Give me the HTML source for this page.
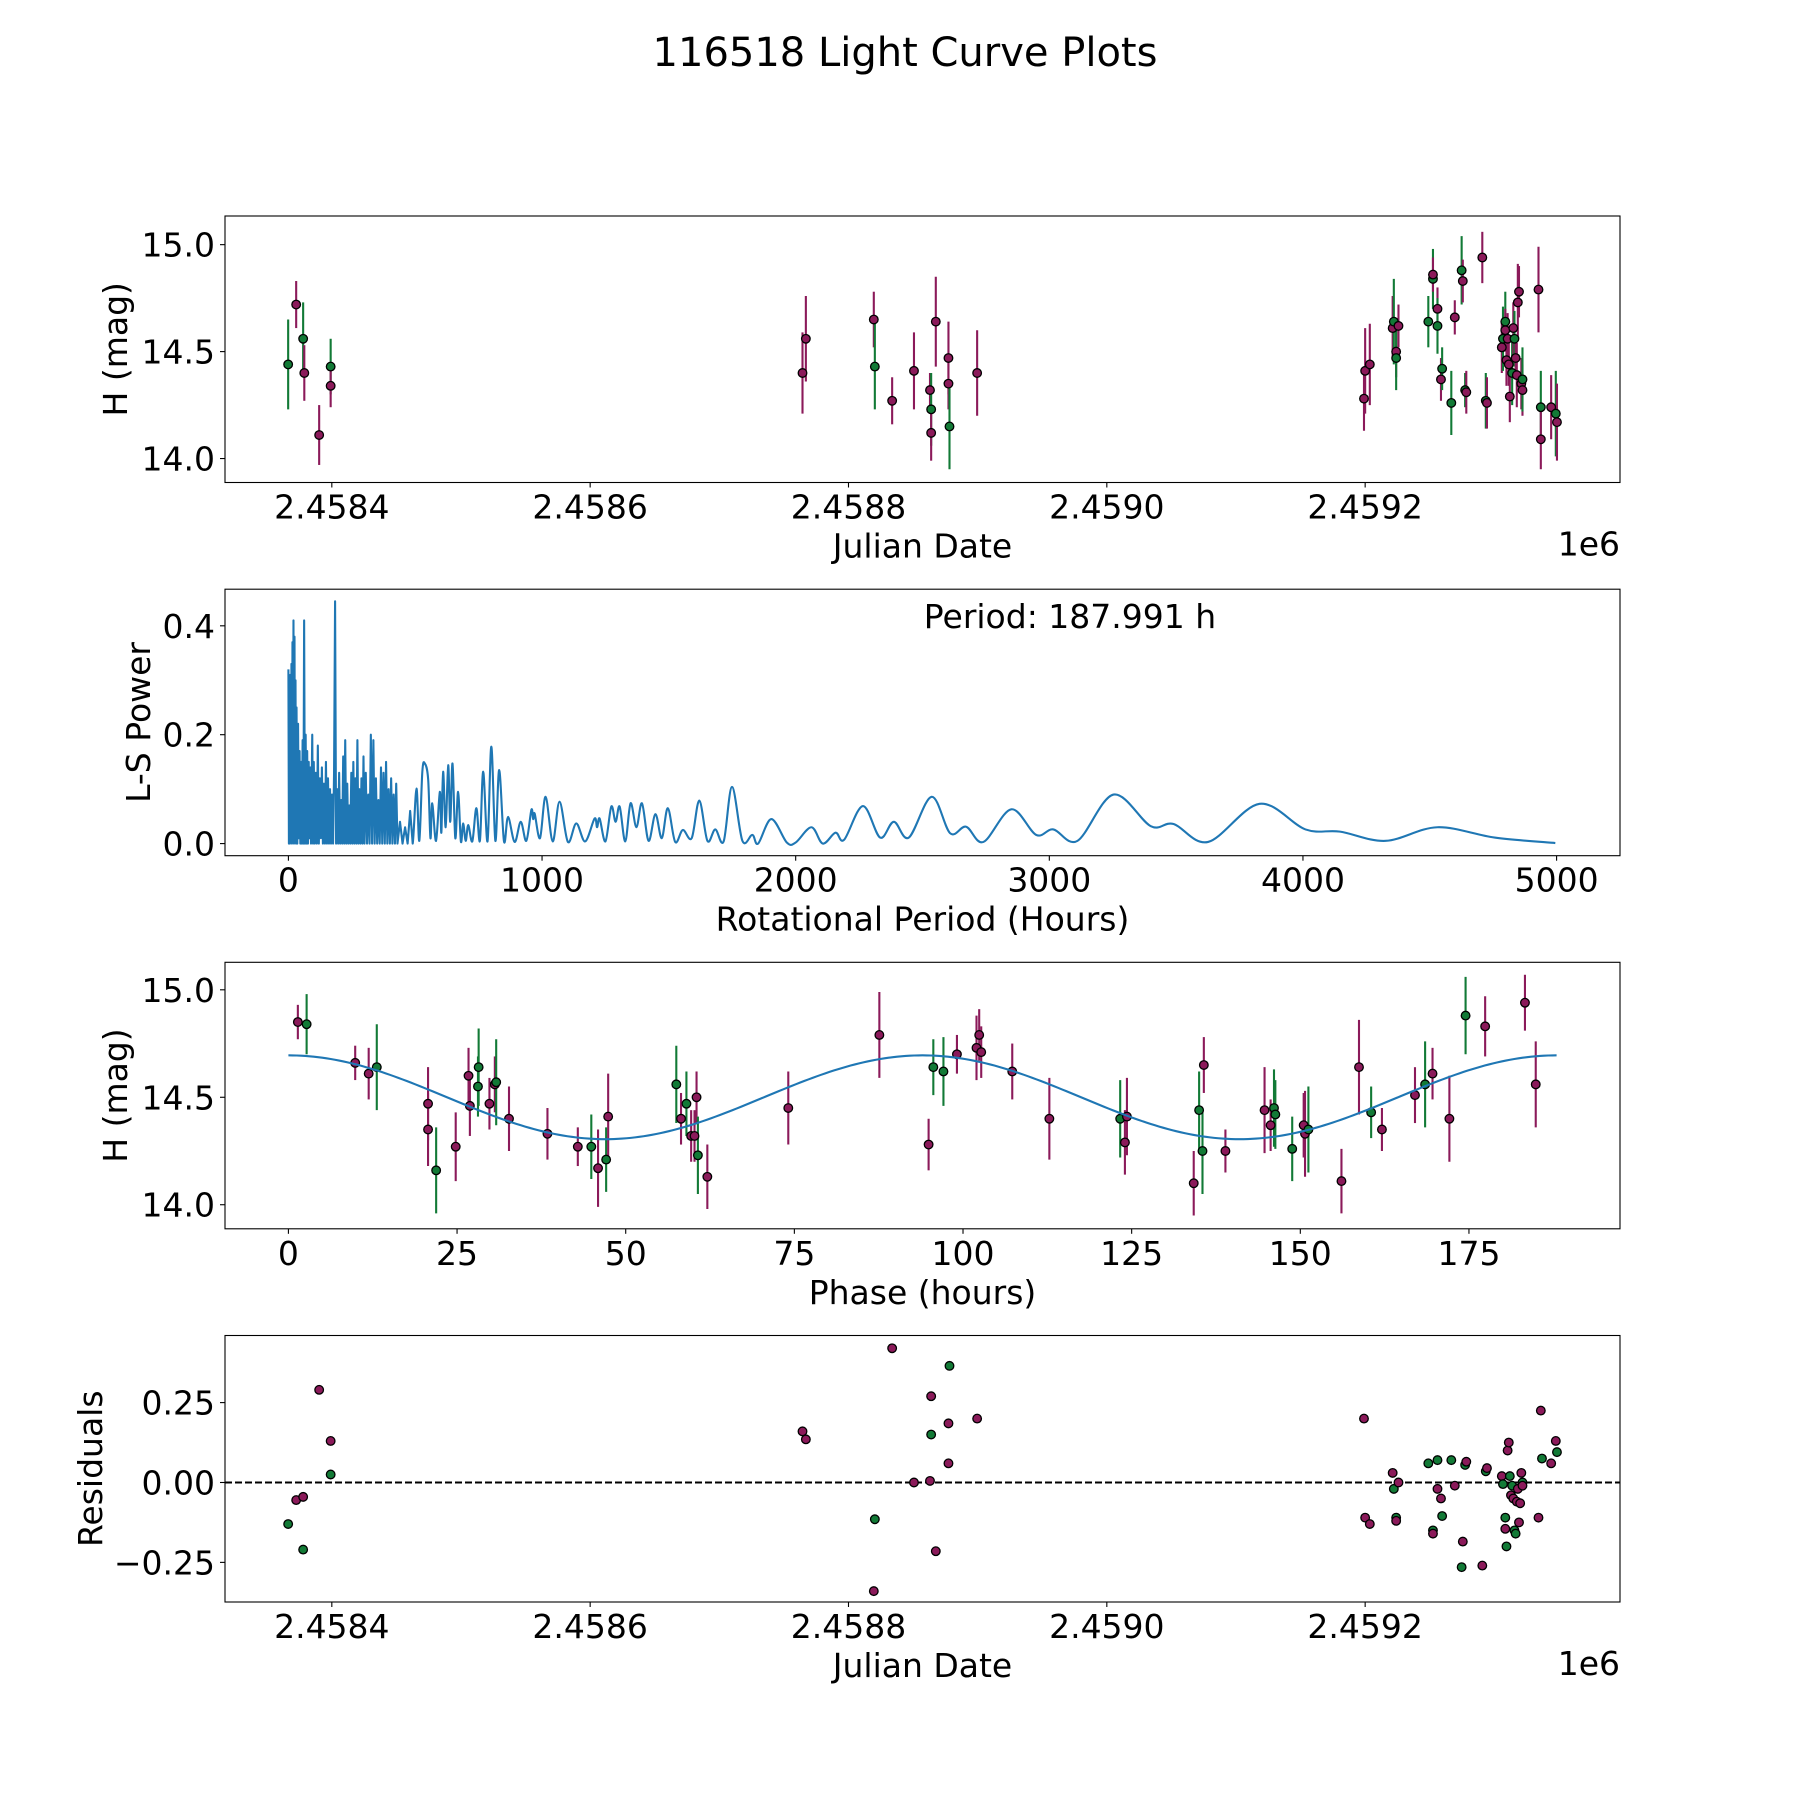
<!DOCTYPE html>
<html><head><meta charset="utf-8"><title>116518 Light Curve Plots</title>
<style>
html,body{margin:0;padding:0;background:#fff;}
svg{display:block;font-family:"DejaVu Sans","Liberation Sans",sans-serif;}
</style></head>
<body>
<svg id="fig" width="1800" height="1800" viewBox="0 0 1800 1800" xmlns="http://www.w3.org/2000/svg">
<rect x="0" y="0" width="1800" height="1800" fill="#fff"/>
<text x="905" y="66" font-size="40" text-anchor="middle">116518 Light Curve Plots</text>
</svg>
<script>
// ---------- Panel 1: observations (JD offset from 2458000) ----------
const obsT = [366.2,372.4,377.8,378.7,390.2,399.1,399.1,764.4,767.0,819.6,820.4,833.8,850.7,863.1,864.0,864.0,867.6,877.4,877.4,878.2,899.6,1199.1,1200.0,1203.6,1221.3,1222.2,1224.0,1224.0,1225.8,1248.9,1252.5,1252.5,1256.0,1256.0,1258.7,1259.6,1266.7,1269.4,1274.7,1275.6,1277.4,1278.3,1290.7,1293.4,1294.3,1305.8,1306.7,1308.5,1308.5,1309.4,1310.3,1311.2,1312.0,1313.8,1314.7,1315.6,1316.5,1317.4,1318.2,1319.1,1320.9,1321.8,1321.8,1334.2,1336.0,1336.0,1344.0,1347.6,1348.5];
const obsH = [14.44,14.72,14.56,14.40,14.11,14.43,14.34,14.40,14.56,14.65,14.43,14.27,14.41,14.32,14.23,14.12,14.64,14.47,14.35,14.15,14.40,14.28,14.41,14.44,14.61,14.64,14.50,14.47,14.62,14.64,14.84,14.86,14.70,14.62,14.37,14.42,14.26,14.66,14.88,14.83,14.32,14.31,14.94,14.27,14.26,14.52,14.56,14.64,14.60,14.46,14.56,14.44,14.29,14.40,14.61,14.56,14.47,14.39,14.73,14.78,14.35,14.32,14.37,14.79,14.24,14.09,14.24,14.21,14.17];
const obsErr = [.21,.11,.17,.13,.14,.13,.10,.19,.20,.13,.20,.11,.18,.08,.17,.13,.21,.17,.12,.20,.20,.15,.20,.19,.15,.20,.12,.15,.10,.12,.14,.08,.10,.13,.10,.10,.15,.08,.16,.10,.08,.10,.12,.13,.12,.12,.15,.14,.10,.12,.12,.10,.12,.15,.12,.13,.10,.15,.18,.12,.12,.12,.15,.20,.17,.14,.15,.20,.18];
const obsBand = "gpgppgp" + "pppgpppgppppgp" + "ppppgpgp" + "ggppgpggp" + "gpgppgp" + "pggpppppgpgppppppg" + "pgppgp";
// ---------- Panel 2: periodogram ----------
const lsPeriod = [0,2,4,6,8,10,12,14,16,18,20,22,24,26,28,30,32,35,38,41,44,47,50,53,56,59,62,65,68,71,74,77,80,83,86,89,92,94,97,100,104,108,112,116,120,124,128,132,136,140,144,148,152,156,160,164,168,172,176,180,184,188,192,196,200,204,208,212,216,220,224,228,232,236,240,244,248,252,256,260,264,268,272,276,280,284,288,292,296,300,305,310,315,320,325,330,335,340,345,350,355,360,365,370,375,380,385,390,395,400,405,410,415,420,425,430,440,450,460,470,480,490,505,516,528,538,551,560,567,582,597,603,610,620,630,638,647,658,669,680,689,699,709,725,741,755,768,785,800,816,831,850,866,892,916,938,958,965,971,992,1014,1042,1069,1102,1135,1170,1207,1217,1227,1250,1273,1290,1306,1328,1349,1372,1394,1420,1447,1472,1496,1525,1555,1590,1620,1652,1683,1716,1749,1790,1829,1852,1904,1965,2000,2062,2107,2157,2191,2265,2333,2387,2446,2536,2609,2672,2740,2850,2948,3016,3111,3253,3400,3490,3626,3829,4010,4146,4326,4530,4756,4995];
const lsPower = [0.32,0.0,0.25,0.0,0.31,0.02,0.33,0.0,0.37,0.01,0.41,0.0,0.38,0.02,0.30,0.0,0.25,0.0,0.22,0.01,0.17,0.0,0.15,0.0,0.19,0.0,0.41,0.0,0.20,0.0,0.17,0.0,0.15,0.01,0.14,0.0,0.12,0.20,0.0,0.15,0.0,0.13,0.0,0.18,0.0,0.12,0.01,0.14,0.0,0.11,0.0,0.15,0.0,0.12,0.0,0.10,0.0,0.09,0.0,0.13,0.445,0.0,0.10,0.0,0.13,0.0,0.08,0.0,0.16,0.0,0.19,0.0,0.11,0.0,0.07,0.0,0.13,0.0,0.15,0.0,0.12,0.0,0.19,0.0,0.10,0.0,0.12,0.0,0.16,0.0,0.13,0.0,0.09,0.0,0.20,0.0,0.19,0.0,0.12,0.0,0.08,0.0,0.14,0.0,0.13,0.0,0.15,0.0,0.10,0.0,0.12,0.0,0.09,0.0,0.11,0.0,0.04,0.0,0.03,0.0,0.06,0.0,0.101,0.005,0.132,0.147,0.118,0.01,0.074,0.005,0.095,0.02,0.132,0.03,0.144,0.04,0.147,0.01,0.095,0.004,0.037,0.005,0.034,0.004,0.065,0.005,0.132,0.004,0.178,0.005,0.135,0.004,0.049,0.003,0.040,0.005,0.062,0.045,0.055,0.01,0.086,0.004,0.077,0.003,0.037,0.004,0.046,0.03,0.046,0.004,0.068,0.04,0.068,0.004,0.074,0.03,0.074,0.005,0.054,0.01,0.065,0.003,0.025,0.01,0.079,0.005,0.026,0.004,0.104,0.005,0.016,0.0,0.045,0.002,0.002,0.030,0.0,0.020,0.007,0.069,0.011,0.040,0.011,0.086,0.019,0.031,0.003,0.063,0.016,0.026,0.005,0.090,0.032,0.036,0.003,0.073,0.026,0.022,0.005,0.030,0.011,0.001];
const bestPeriodLabel = "Period: 187.991 h";
// ---------- Panel 3: phased ----------
const phaseX = [1.4,2.7,9.9,11.9,13.1,20.7,20.7,21.9,24.8,26.7,26.9,28.1,28.2,29.8,30.6,30.8,32.7,38.4,42.9,44.9,45.9,47.1,47.4,57.5,58.2,59.0,59.7,60.2,60.5,60.7,62.1,74.1,87.6,94.9,95.6,97.1,99.1,102.0,102.4,102.7,107.3,112.8,123.3,124.0,124.3,134.2,135.0,135.5,135.7,138.9,144.7,145.6,146.1,146.3,148.8,150.5,150.7,151.2,156.1,158.7,160.5,162.1,167.0,168.5,169.6,172.1,174.5,177.4,183.3,184.9];
const phaseH = [14.85,14.84,14.66,14.61,14.64,14.47,14.35,14.16,14.27,14.60,14.46,14.55,14.64,14.47,14.56,14.57,14.40,14.33,14.27,14.27,14.17,14.21,14.41,14.56,14.40,14.47,14.32,14.32,14.50,14.23,14.13,14.45,14.79,14.28,14.64,14.62,14.70,14.73,14.79,14.71,14.62,14.40,14.40,14.29,14.41,14.10,14.44,14.25,14.65,14.25,14.44,14.37,14.45,14.42,14.26,14.37,14.33,14.35,14.11,14.64,14.43,14.35,14.51,14.56,14.61,14.40,14.88,14.83,14.94,14.56];
const phaseErr = [.08,.14,.08,.12,.20,.17,.17,.20,.16,.13,.14,.14,.18,.12,.13,.20,.15,.12,.09,.15,.18,.15,.20,.18,.12,.15,.12,.12,.12,.18,.15,.17,.20,.12,.13,.16,.09,.15,.12,.12,.13,.19,.18,.15,.18,.15,.18,.20,.13,.10,.20,.12,.18,.16,.15,.15,.20,.20,.15,.22,.12,.10,.13,.20,.12,.20,.18,.14,.13,.20];
const phaseBand = "pgppgppgpp" + "pggppgpppg" + "pgpgpgpppg" + "ppppggpppp" + "ppgpppggpp" + "ppgggppgpp" + "gppgppgppp";
const fitMean = [14.5];
const fitAmp = [0.195];
const fitPeriod = [187.991];
// ---------- Panel 4: residuals ----------
const resT = [366.2,372.4,377.8,377.8,390.2,399.1,399.1,764.4,767.0,819.6,820.4,833.8,850.7,863.1,864.0,864.0,867.6,877.4,877.4,878.2,899.6,1199.1,1200.0,1203.6,1221.3,1222.2,1224.0,1224.0,1225.8,1248.9,1252.5,1252.5,1256.0,1256.0,1258.7,1259.6,1266.7,1269.4,1274.7,1275.6,1277.4,1278.3,1290.7,1293.4,1294.3,1305.8,1306.7,1308.5,1308.5,1309.4,1310.3,1311.2,1312.0,1312.9,1313.8,1314.7,1315.6,1316.5,1317.4,1318.2,1319.1,1320.0,1320.9,1321.8,1321.8,1334.2,1336.0,1336.9,1344.0,1347.6,1348.5];
const resV = [-0.13,-0.055,-0.045,-0.21,0.29,0.13,0.025,0.16,0.135,-0.34,-0.115,0.42,0.0,0.005,0.15,0.27,-0.215,0.185,0.06,0.365,0.2,0.2,-0.11,-0.13,0.03,-0.02,-0.11,-0.12,0.0,0.06,-0.15,-0.16,0.07,-0.02,-0.05,-0.105,0.07,-0.01,-0.265,-0.185,0.055,0.065,-0.26,0.035,0.045,0.02,-0.005,-0.11,-0.145,-0.2,0.1,0.125,0.02,-0.04,-0.01,-0.05,-0.15,-0.16,-0.06,-0.02,-0.125,-0.065,0.03,0.0,-0.01,-0.11,0.225,0.075,0.06,0.13,0.095];
const resBand = "gppgppg" + "pppgpppgppppgp" + "ppppggpp" + "ggpgppggp" + "gpgppgp" + "pggpgppgpgpggpppppgp" + "ppgppg";
const jdTicks = [400,600,800,1000,1200];
const jdTickLabels = ["2.4584","2.4586","2.4588","2.4590","2.4592"];

const NS = "http://www.w3.org/2000/svg";
const svg = document.getElementById('fig');
const PURPLE = "#8b1a5a", GREEN = "#127a36", BLUE = "#1f77b4";
const L = 225, W = 1395, H = 266.5;
const TOPS = [216, 589.2, 962.3, 1335.5];

function mk(tag, attrs, parent) {
  const e = document.createElementNS(NS, tag);
  for (const k in attrs) e.setAttribute(k, attrs[k]);
  (parent || svg).appendChild(e);
  return e;
}
function scale(d0, d1, r0, r1) { return v => r0 + (v - d0) / (d1 - d0) * (r1 - r0); }

function axesFrame(top, g, name) {
  const r = mk('rect', {x: L, y: top, width: W, height: H, fill: 'none', stroke: '#000', 'stroke-width': 1.1}, g);
  
  
}
function xTicks(g, top, sx, vals, labels, name) {
  vals.forEach((v, i) => {
    const x = sx(v);
    const t = mk('line', {x1: x, x2: x, y1: top + H, y2: top + H + 5, stroke: '#000', 'stroke-width': 1.1}, g);
    
    
    const tx = mk('text', {x: x, y: top + H + 36, 'font-size': 33, 'text-anchor': 'middle'}, g);
    tx.textContent = labels[i];
    
    
  });
}
function yTicks(g, sy, vals, labels, name) {
  vals.forEach((v, i) => {
    const y = sy(v);
    const t = mk('line', {x1: L - 5, x2: L, y1: y, y2: y, stroke: '#000', 'stroke-width': 1.1}, g);
    
    
    const tx = mk('text', {x: L - 10, y: y + 12, 'font-size': 33, 'text-anchor': 'end'}, g);
    tx.textContent = labels[i];
    
    
  });
}
function xLabel(g, top, text, name) {
  const t = mk('text', {x: L + W / 2, y: top + H + 75, 'font-size': 33, 'text-anchor': 'middle'}, g);
  t.textContent = text;
  
  
}
function yLabel(g, top, x, text, name) {
  const cy = top + H / 2;
  const t = mk('text', {x: x, y: cy, 'font-size': 33, 'text-anchor': 'middle', transform: `rotate(-90 ${x} ${cy})`}, g);
  t.textContent = text;
  
  
}
function offsetText(g, top) {
  const t = mk('text', {x: L + W, y: top + H + 73, 'font-size': 33, 'text-anchor': 'end'}, g);
  t.textContent = "1e6";
  
  
}
function point(g, x, y, band, name) {
  const c = mk('circle', {cx: x, cy: y, r: 4.3, fill: band === 'g' ? GREEN : PURPLE, stroke: '#000', 'stroke-width': 1.3}, g);
  
  
}
function errbar(g, x, y0, y1, band, name) {
  const l = mk('line', {x1: x, x2: x, y1: y0, y2: y1, stroke: band === 'g' ? GREEN : PURPLE, 'stroke-width': 2.1}, g);
  
  
}

// ===== Panel 1 =====
(function () {
  const top = TOPS[0];
  const g = mk('g', {});
  
  
  const sx = scale(317.3, 1397.3, L, L + W), sy = scale(13.888, 15.134, top + H, top);
  obsT.forEach((t, i) => errbar(g, sx(t), sy(obsH[i] - obsErr[i]), sy(obsH[i] + obsErr[i]), obsBand[i], 'obs-error-bar'));
  obsT.forEach((t, i) => point(g, sx(t), sy(obsH[i]), obsBand[i], 'obs-point'));
  axesFrame(top, g, 'raw-panel');
  xTicks(g, top, sx, jdTicks, jdTickLabels, 'raw-panel');
  yTicks(g, sy, [14.0, 14.5, 15.0], ["14.0", "14.5", "15.0"], 'raw-panel');
  xLabel(g, top, "Julian Date", 'raw-panel-x-axis-title');
  yLabel(g, top, 127, "H (mag)", 'raw-panel-y-axis-title');
  offsetText(g, top);
})();

// ===== Panel 2 =====
(function () {
  const top = TOPS[1];
  const g = mk('g', {});
  
  
  const sx = scale(-250, 5250, L, L + W), sy = scale(-0.02225, 0.46725, top + H, top);
  const pts = lsPeriod.map((p, i) => [sx(p), sy(lsPower[i])]);
  let d = `M${pts[0][0].toFixed(2)},${pts[0][1].toFixed(2)}`;
  for (let i = 1; i < pts.length; i++) {
    if (lsPeriod[i] <= 500) {
      d += `L${pts[i][0].toFixed(2)},${pts[i][1].toFixed(2)}`;
    } else {
      const p0 = pts[i - 2] || pts[i - 1], p1 = pts[i - 1], p2 = pts[i], p3 = pts[i + 1] || pts[i];
      const c1x = p1[0] + (p2[0] - p0[0]) / 6, c1y = p1[1] + (p2[1] - p0[1]) / 6;
      const c2x = p2[0] - (p3[0] - p1[0]) / 6, c2y = p2[1] - (p3[1] - p1[1]) / 6;
      d += `C${c1x.toFixed(2)},${c1y.toFixed(2)} ${c2x.toFixed(2)},${c2y.toFixed(2)} ${p2[0].toFixed(2)},${p2[1].toFixed(2)}`;
    }
  }
  const path = mk('path', {d: d, fill: 'none', stroke: BLUE, 'stroke-width': 2.1, 'stroke-linejoin': 'round'}, g);
  
  
  axesFrame(top, g, 'periodogram');
  xTicks(g, top, sx, [0, 1000, 2000, 3000, 4000, 5000], ["0", "1000", "2000", "3000", "4000", "5000"], 'periodogram');
  yTicks(g, sy, [0.0, 0.2, 0.4], ["0.0", "0.2", "0.4"], 'periodogram');
  xLabel(g, top, "Rotational Period (Hours)", 'periodogram-x-axis-title');
  yLabel(g, top, 150, "L-S Power", 'periodogram-y-axis-title');
  const pt = mk('text', {x: 1070, y: 628, 'font-size': 33, 'text-anchor': 'middle'}, g);
  pt.textContent = bestPeriodLabel;
  
  
})();

// ===== Panel 3 =====
(function () {
  const top = TOPS[2];
  const g = mk('g', {});
  
  
  const sx = scale(-9.4, 197.39, L, L + W), sy = scale(13.888, 15.128, top + H, top);
  let d = "";
  for (let k = 0; k <= 300; k++) {
    const ph = fitPeriod[0] * k / 300;
    const v = fitMean[0] + fitAmp[0] * Math.cos(2 * Math.PI * 2 * ph / fitPeriod[0]);
    d += (k ? "L" : "M") + sx(ph).toFixed(2) + "," + sy(v).toFixed(2);
  }
  phaseX.forEach((p, i) => errbar(g, sx(p), sy(phaseH[i] - phaseErr[i]), sy(phaseH[i] + phaseErr[i]), phaseBand[i], 'phase-error-bar'));
  phaseX.forEach((p, i) => point(g, sx(p), sy(phaseH[i]), phaseBand[i], 'phase-point'));
  const fit = mk('path', {d: d, fill: 'none', stroke: BLUE, 'stroke-width': 2.1}, g);
  
  
  axesFrame(top, g, 'phase-panel');
  xTicks(g, top, sx, [0, 25, 50, 75, 100, 125, 150, 175], ["0", "25", "50", "75", "100", "125", "150", "175"], 'phase-panel');
  yTicks(g, sy, [14.0, 14.5, 15.0], ["14.0", "14.5", "15.0"], 'phase-panel');
  xLabel(g, top, "Phase (hours)", 'phase-panel-x-axis-title');
  yLabel(g, top, 127, "H (mag)", 'phase-panel-y-axis-title');
})();

// ===== Panel 4 =====
(function () {
  const top = TOPS[3];
  const g = mk('g', {});
  
  
  const sx = scale(317.3, 1397.3, L, L + W), sy = scale(-0.374, 0.46, top + H, top);
  const zl = mk('line', {x1: L, x2: L + W, y1: sy(0), y2: sy(0), stroke: '#000', 'stroke-width': 2, 'stroke-dasharray': '7,3'}, g);
  
  
  resT.forEach((t, i) => point(g, sx(t), sy(resV[i]), resBand[i], 'residual-point'));
  axesFrame(top, g, 'residuals');
  xTicks(g, top, sx, jdTicks, jdTickLabels, 'residuals');
  yTicks(g, sy, [-0.25, 0, 0.25], ["\u22120.25", "0.00", "0.25"], 'residuals');
  xLabel(g, top, "Julian Date", 'residuals-x-axis-title');
  yLabel(g, top, 102, "Residuals", 'residuals-y-axis-title');
  offsetText(g, top);
})();
</script>
</body></html>
